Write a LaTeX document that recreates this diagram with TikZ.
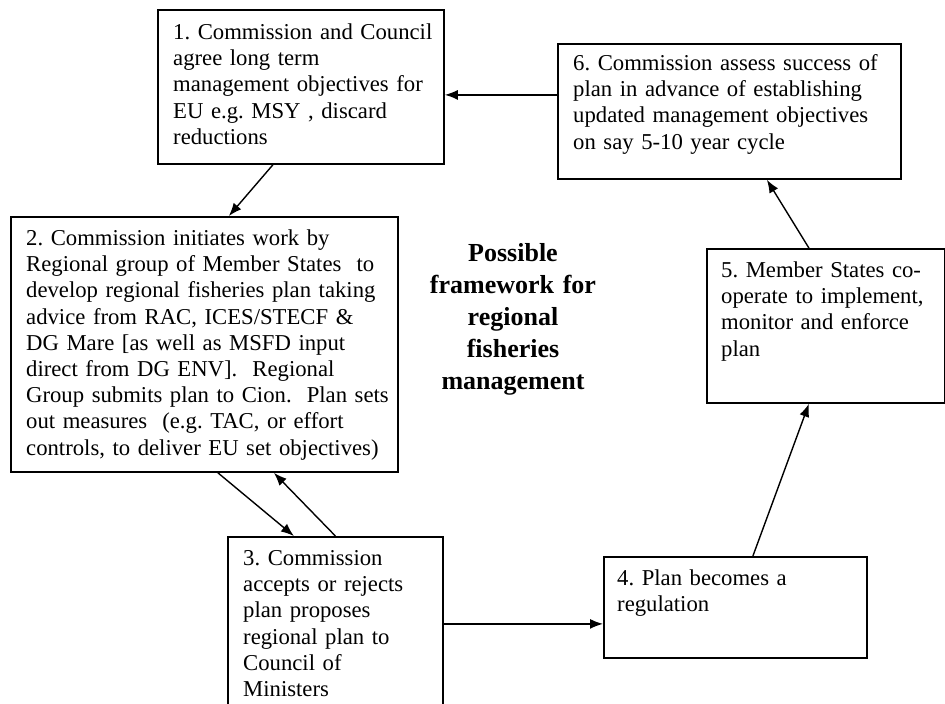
\documentclass[tikz,border=0pt]{standalone}
\usepackage{fontspec}
\setmainfont{Liberation Serif}
\usetikzlibrary{positioning,arrows.meta}
\frenchspacing
\begin{document}
\begin{tikzpicture}[x=1pt, y=-1pt,
  box/.style = {draw, line width=1.8pt, anchor=north west, inner sep=0pt},
  txt/.style = {inner sep=0pt, align=left, text width=#1, font=\fontsize{22.7}{26.2}\selectfont},
  title/.style = {inner sep=0pt, align=center, text width=220pt, font=\bfseries\fontsize{26}{32}\selectfont},
  flow/.style = {-{Latex[length=13pt,width=10pt]}, line width=1.4pt}]
\fill[white] (0,0) rectangle (945,704);
\useasboundingbox (0,0) rectangle (945,704);

% boxes
\node[box, minimum width=286pt, minimum height=154pt] (b1) at (157,9) {};
\node[box, minimum width=387pt, minimum height=255pt] (b2) at (10,216) {};
\node[box, minimum width=215pt, minimum height=174pt] (b3) at (227,536) {};
\node[box, minimum width=263pt, minimum height=101pt] (b4) at (603,556) {};
\node[box, minimum width=238pt, minimum height=154pt] (b5) at (706,248) {};
\node[box, minimum width=343pt, minimum height=135pt] (b6) at (557,43) {};

% texts
\node[txt=270pt, below right=30.5pt and 16pt of b1.north west, anchor=base west] (t1)
  {1. Commission and Council\\ agree long term\\ management objectives for\\ EU e.g. MSY , discard\\ reductions};
\node[txt=370pt, below right=29.5pt and 16pt of b2.north west, anchor=base west] (t2)
  {2. Commission initiates work by\\ Regional group of Member States~ to\\ develop regional fisheries plan taking\\ advice from RAC, ICES/STECF \&\\ DG Mare [as well as MSFD input\\ direct from DG ENV].~ Regional\\ Group submits plan to Cion.~ Plan sets\\ out measures~ (e.g. TAC, or effort\\ controls, to deliver EU set objectives)};
\node[txt=200pt, below right=29.5pt and 16pt of b3.north west, anchor=base west] (t3)
  {3. Commission\\ accepts or rejects\\ plan proposes\\ regional plan to\\ Council of\\ Ministers};
\node[txt=245pt, below right=29.5pt and 14pt of b4.north west, anchor=base west] (t4)
  {4. Plan becomes a\\ regulation};
\node[txt=220pt, below right=29.5pt and 15pt of b5.north west, anchor=base west] (t5)
  {5. Member States co-\\ operate to implement,\\ monitor and enforce\\ plan};
\node[txt=325pt, below right=27.5pt and 16pt of b6.north west, anchor=base west] (t6)
  {6. Commission assess success of\\ plan in advance of establishing\\ updated management objectives\\ on say 5-10 year cycle};

\node[title, anchor=base] (head) at (513,261)
  {Possible\\ framework for\\ regional\\ fisheries\\ management};

% cycle
\draw[flow] ([yshift=16.5pt]b6.west) -- ([yshift=16.5pt]b6.west -| b1.east);
\draw[flow] ([xshift=-28pt]b1.south) -- ([xshift=24.5pt]b2.north);
\draw[flow] ([xshift=13.5pt]b2.south) -- ([xshift=-41.5pt]b3.north);
\draw[flow] (b3.north) -- ([xshift=69.5pt]b2.south);
\draw[flow] (b3.east) -- (b3.east -| b4.west);
\draw[flow] ([xshift=17.5pt]b4.north) -- ([xshift=-17pt]b5.south);
\draw[flow] ([xshift=-17pt]b5.north) -- ([xshift=37.5pt]b6.south);
\end{tikzpicture}
\end{document}
